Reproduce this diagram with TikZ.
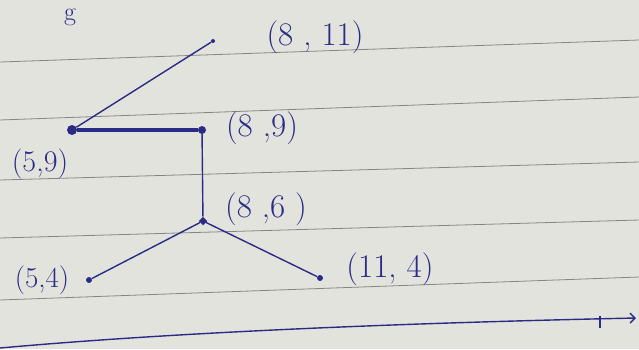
\documentclass[tikz,border=0pt]{standalone}
\usepackage{tikz}
\usetikzlibrary{positioning,arrows.meta}
\definecolor{ink}{rgb}{0.17,0.17,0.52}
\definecolor{paper}{rgb}{0.89,0.89,0.87}
\definecolor{ruling}{rgb}{0.52,0.52,0.52}

\begin{document}
\begin{tikzpicture}[x=1pt,y=-1pt,
  vtx/.style={circle,fill=ink,inner sep=0pt,minimum size=#1},
  lbl/.style={text=ink,inner sep=1pt,font=\fontsize{33}{36}\selectfont},
  edge/.style={ink,line width=1.4pt}]
  % sheet of paper
  \fill[paper] (0,0) rectangle (639,349);
  \clip (0,0) rectangle (639,349);
  % ruled lines (slightly tilted)
  \foreach \a/\b in {62/40,120/97,180/162,238/220,300/277}{
    \draw[ruling,line width=0.8pt] (0,\a) -- (639,\b);
  }
  % letter at the top
  \node[lbl,font=\fontsize{26}{28}\selectfont] (g) at (70,17) {g};
  % vertices
  \node[vtx=4pt] (p811) at (213,41) {};
  \node[vtx=10pt] (p59)  at (72,130) {};
  \node[vtx=8pt] (p89)  at (202,130) {};
  \node[vtx=6pt,rotate=45,rectangle] (p86) at (203,221) {};
  \node[vtx=6pt] (p54)  at (89,280) {};
  \node[vtx=6pt] (p114) at (320,278) {};
  % labels
  \node[lbl] (l811) at (315,37)  {(8 , 11)};
  \node[lbl,font=\fontsize{30}{32}\selectfont] (l59) at (40,164) {(5,9)};
  \node[lbl] (l89)  at (262,128) {(8 ,9)};
  \node[lbl] (l86)  at (266,209) {(8 ,6 )};
  \node[lbl,font=\fontsize{29}{31}\selectfont] (l54) at (42,280) {(5,4)};
  \node[lbl] (l114) at (390,269) {(11, 4)};
  % edges
  \draw[edge] (p811) -- (p59);
  \draw[ink,line width=3.4pt] (p59) -- (p89);
  \draw[edge] (p89) -- (p86);
  \draw[edge] (p86) -- (p54);
  \draw[edge] (p86) -- (p114);
  % axis at the bottom
  \coordinate (a0) at (0,348);
  \coordinate (a1) at (636,318);
  \draw[ink,line width=1.4pt,-{Straight Barb[length=5pt]}] (a0) .. controls (200,330) and (450,322) .. (a1);
  \draw[ink,line width=1.2pt] (600,316) -- (600,328);
\end{tikzpicture}
\end{document}
